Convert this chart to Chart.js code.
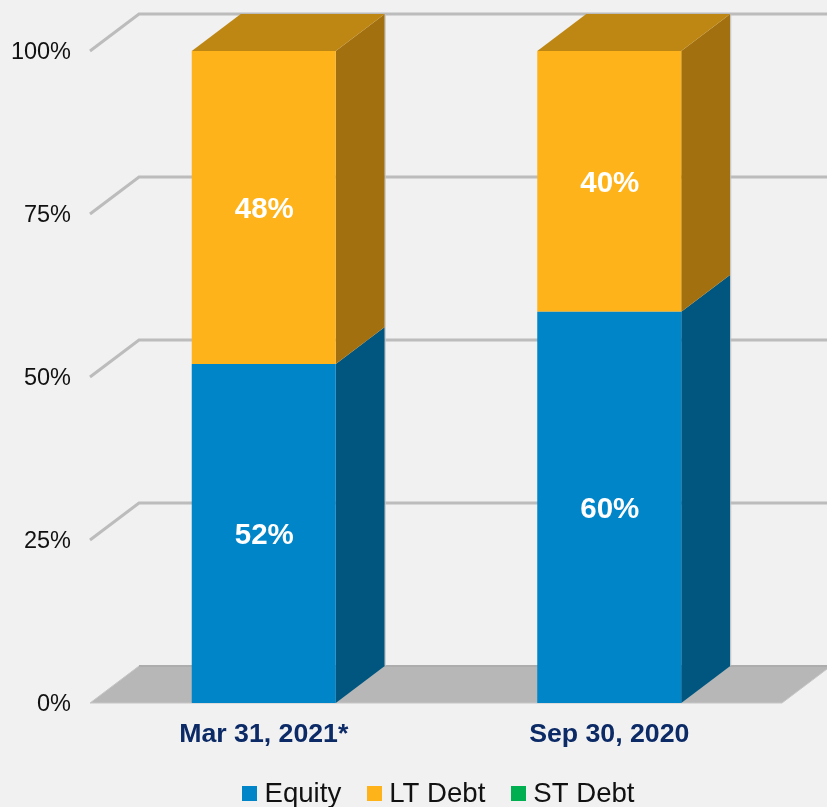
<!DOCTYPE html>
<html>
<head>
<meta charset="utf-8">
<style>
  html, body { margin: 0; padding: 0; background: #f1f1f1; overflow: hidden; }
  #wrap { width: 827px; height: 807px; }
</style>
<script src="https://cdn.jsdelivr.net/npm/chart.js@4"></script>
</head>
<body>
<div id="wrap"><canvas id="chart" width="827" height="807"></canvas></div>
<script>
const categories = ["Mar 31, 2021*", "Sep 30, 2020"];
const equity = [52, 60];
const ltDebt = [48, 40];
const stDebt = [0, 0];
const tickLabels = [0, 25, 50, 75, 100];

const seriesNames = ["Equity", "LT Debt", "ST Debt"];
const frontColors = ["#0085c8", "#ffb31b", "#00af50"];
const sideColors = ["#00567f", "#a37010", "#00733a"];
const topColors = ["#0070a8", "#be8714", "#009040"];

const DEPTH_X = 49;
const DEPTH_Y = -37;
const FONT = '"Liberation Sans", Arial, sans-serif';

function poly(ctx, pts, fill, stroke) {
  ctx.beginPath();
  pts.forEach((p, i) => (i ? ctx.lineTo(p[0], p[1]) : ctx.moveTo(p[0], p[1])));
  ctx.closePath();
  ctx.fillStyle = fill;
  ctx.fill();
  if (stroke) {
    ctx.strokeStyle = stroke;
    ctx.lineWidth = 1;
    ctx.stroke();
  }
}

// back wall grid and floor, behind the bars
const wallPlugin = {
  id: "wall",
  beforeDatasetsDraw(chart) {
    const { ctx, chartArea, scales } = chart;
    const left = chartArea.left - 1;
    const right = chartArea.right;
    const y0 = scales.y.getPixelForValue(0);
    ctx.save();
    poly(ctx, [
      [left, y0],
      [left + DEPTH_X, y0 + DEPTH_Y],
      [right + DEPTH_X, y0 + DEPTH_Y],
      [right, y0],
    ], "#b7b7b7", "#c6c6c6");
    tickLabels.forEach((t) => {
      const y = scales.y.getPixelForValue(t);
      ctx.beginPath();
      if (t === 0) {
        ctx.moveTo(left + DEPTH_X, y + DEPTH_Y);
        ctx.lineTo(right + DEPTH_X, y + DEPTH_Y);
        ctx.strokeStyle = "#adadad";
        ctx.lineWidth = 2;
      } else {
        ctx.moveTo(left, y);
        ctx.lineTo(left + DEPTH_X, y + DEPTH_Y);
        ctx.lineTo(right + DEPTH_X, y + DEPTH_Y);
        ctx.strokeStyle = "#bcbcbc";
        ctx.lineWidth = 3;
      }
      ctx.stroke();
    });

    // side and top faces of each stack
    categories.forEach((_, i) => {
      let topSeries = 0;
      chart.data.datasets.forEach((ds, d) => {
        if (ds.data[i] > 0) topSeries = d;
      });
      chart.data.datasets.forEach((ds, d) => {
        if (!(ds.data[i] > 0)) return;
        const bar = chart.getDatasetMeta(d).data[i];
        const r = bar.x + bar.width / 2;
        const l = bar.x - bar.width / 2;
        poly(ctx, [
          [r, bar.base],
          [r + DEPTH_X, bar.base + DEPTH_Y],
          [r + DEPTH_X, bar.y + DEPTH_Y],
          [r, bar.y],
        ], sideColors[d]);
        if (d === topSeries) {
          poly(ctx, [
            [l, bar.y],
            [l + DEPTH_X, bar.y + DEPTH_Y],
            [r + DEPTH_X, bar.y + DEPTH_Y],
            [r, bar.y],
          ], topColors[d]);
        }
      });
      // pale edge on the outer side of the stack
      const firstBar = chart.getDatasetMeta(0).data[i];
      const topBar = chart.getDatasetMeta(topSeries).data[i];
      const edgeX = firstBar.x + firstBar.width / 2 + DEPTH_X + 0.5;
      ctx.beginPath();
      ctx.moveTo(edgeX, firstBar.base + DEPTH_Y);
      ctx.lineTo(edgeX, topBar.y + DEPTH_Y);
      ctx.strokeStyle = "#c4c4c4";
      ctx.lineWidth = 1;
      ctx.stroke();
    });
    ctx.restore();
  },
};

// percent labels on the bars and the legend row
const labelPlugin = {
  id: "labels",
  afterDraw(chart) {
    const { ctx } = chart;
    ctx.save();
    ctx.font = "bold 29.5px " + FONT;
    ctx.fillStyle = "#ffffff";
    ctx.textAlign = "center";
    ctx.textBaseline = "middle";
    chart.data.datasets.forEach((ds, d) => {
      chart.getDatasetMeta(d).data.forEach((bar, i) => {
        if (ds.data[i] > 0) {
          ctx.fillText(ds.data[i] + "%", bar.x + 0.5, (bar.y + bar.base) / 2 + 2);
        }
      });
    });

    ctx.font = "27.6px " + FONT;
    ctx.textAlign = "left";
    ctx.textBaseline = "alphabetic";
    const box = 15;
    const gap = 7;
    const itemGap = 26;
    const widths = seriesNames.map((n) => ctx.measureText(n).width);
    const total = widths.reduce((a, w) => a + w + box + gap, 0) + itemGap * 2;
    let x = 438.5 - total / 2;
    seriesNames.forEach((n, i) => {
      ctx.fillStyle = frontColors[i];
      ctx.fillRect(Math.round(x), 786, box, box);
      ctx.fillStyle = "#111111";
      ctx.fillText(n, x + box + gap, 802);
      x += box + gap + widths[i] + itemGap;
    });
    ctx.restore();
  },
};

new Chart(document.getElementById("chart"), {
  type: "bar",
  data: {
    labels: categories,
    datasets: [
      { label: seriesNames[0], data: equity, backgroundColor: frontColors[0] },
      { label: seriesNames[1], data: ltDebt, backgroundColor: frontColors[1] },
      { label: seriesNames[2], data: stDebt, backgroundColor: frontColors[2] },
    ],
  },
  options: {
    responsive: false,
    animation: false,
    layout: { padding: { top: 51, right: 45, left: 0, bottom: 0 } },
    datasets: { bar: { categoryPercentage: 1, barPercentage: 144 / 345.5 } },
    plugins: { legend: { display: false }, tooltip: { enabled: false } },
    scales: {
      x: {
        stacked: true,
        grid: { display: false },
        border: { display: false },
        afterFit: (s) => { s.height = 104; },
        ticks: {
          padding: 8,
          color: "#0b2a66",
          maxRotation: 0,
          font: { family: FONT, size: 26.7, weight: "bold" },
        },
      },
      y: {
        stacked: true,
        min: 0,
        max: 100,
        grid: { display: false },
        border: { display: false },
        afterFit: (s) => { s.width = 91; },
        afterBuildTicks: (s) => { s.ticks = tickLabels.map((value) => ({ value })); },
        ticks: {
          padding: 12,
          labelOffset: 2,
          color: "#111111",
          callback: (v) => v + "%",
          font: { family: FONT, size: 23.5 },
        },
      },
    },
  },
  plugins: [wallPlugin, labelPlugin],
});
</script>
</body>
</html>
